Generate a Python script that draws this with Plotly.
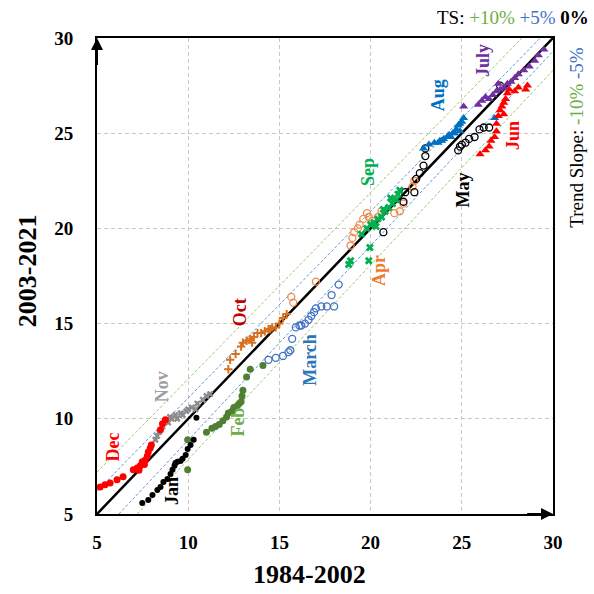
import plotly.graph_objects as go

# ---------------- data (x: 1984-2002, y: 2003-2021) ----------------
dec_x = [5.17, 5.44, 5.72, 6.1, 6.43, 6.99, 7.2, 7.37, 7.48, 7.65, 7.76, 7.81, 7.92, 7.98, 7.3, 7.6, 8.48, 8.59, 8.75]
dec_y = [6.42, 6.53, 6.63, 6.8, 6.95, 7.32, 7.42, 7.53, 7.74, 7.84, 8.05, 8.26, 8.47, 8.63, 7.3, 7.6, 9.42, 9.74, 9.95]

nov_x = [8.2, 8.4, 8.6, 8.9, 9.1, 9.3, 9.6, 9.9, 10.2, 10.5, 10.8, 11.0, 9.0, 9.4, 10.0, 8.3, 11.2, 10.4, 9.7]
nov_y = [8.9, 9.3, 9.6, 9.8, 10.0, 10.2, 10.3, 10.4, 10.6, 10.8, 11.0, 11.2, 10.1, 10.0, 10.5, 9.1, 11.3, 10.5, 10.2]

jan_x = [7.48, 7.81, 8.04, 8.31, 8.48, 8.64, 8.86, 9.03, 9.14, 9.25, 9.3, 9.41, 9.58, 9.69, 9.86, 9.97, 10.13, 10.3, 10.45]
jan_y = [5.58, 5.74, 6.0, 6.26, 6.42, 6.68, 6.84, 7.1, 7.32, 7.53, 7.68, 7.74, 7.79, 7.9, 8.1, 8.42, 8.63, 8.9, 10.05]

feb_x = [9.97, 9.97, 11.0, 11.3, 11.5, 11.7, 11.9, 12.1, 12.2, 12.4, 12.5, 12.7, 12.8, 12.9, 12.95, 13.0, 13.2, 13.4, 14.1]
feb_y = [7.32, 8.9, 9.3, 9.5, 9.6, 9.7, 9.9, 10.1, 10.3, 10.4, 10.6, 10.7, 10.8, 10.9, 11.2, 11.5, 12.2, 12.6, 12.8]

mar_x = [14.4, 14.8, 15.2, 15.5, 15.7, 15.9, 16.2, 16.4, 16.6, 16.75, 16.9, 17.0, 17.3, 17.6, 18.0, 17.86, 18.25, 15.6, 16.1]
mar_y = [13.1, 13.2, 13.3, 13.5, 14.2, 14.8, 14.9, 15.0, 15.2, 15.4, 15.6, 15.8, 15.9, 15.9, 15.9, 16.5, 17.05, 13.6, 14.9]

apr_x = [15.65, 15.76, 17.0, 18.9, 19.0, 19.1, 19.3, 19.4, 19.6, 19.8, 19.9, 20.1, 20.4, 20.6, 21.3, 21.6, 21.8, 22.3, 22.4]
apr_y = [16.4, 16.1, 17.2, 19.1, 19.5, 19.8, 20.0, 20.2, 20.5, 20.8, 20.6, 20.4, 20.6, 20.9, 20.8, 20.9, 21.3, 22.2, 22.5]

may_x = [20.7, 21.8, 21.9, 22.4, 22.5, 22.7, 22.9, 23.0, 23.0, 24.9, 25.0, 25.2, 25.4, 25.7, 25.97, 26.2, 26.5, 27.1, 24.8]
may_y = [19.8, 21.4, 21.9, 21.9, 22.6, 22.9, 23.3, 23.8, 24.2, 24.3, 24.4, 24.5, 24.7, 24.8, 25.2, 25.3, 25.3, 27.5, 24.1]

jun_x = [26.0, 26.3, 26.5, 26.6, 26.8, 26.9, 27.0, 27.1, 27.2, 27.3, 27.4, 27.5, 27.6, 28.1, 28.5, 28.6, 26.9, 27.3, 27.9]
jun_y = [23.9, 24.1, 24.3, 24.6, 24.8, 25.1, 25.9, 26.2, 26.4, 26.6, 26.8, 27.1, 27.3, 27.4, 27.3, 27.5, 25.5, 26.0, 27.2]

jul_x = [25.1, 25.9, 26.1, 26.3, 26.5, 26.7, 26.9, 27.1, 27.3, 27.5, 27.7, 27.9, 28.1, 28.4, 28.7, 29.0, 29.2, 29.5, 27.0]
jul_y = [26.4, 26.5, 26.7, 26.9, 26.8, 27.0, 27.2, 27.3, 27.4, 27.6, 27.7, 27.9, 28.1, 28.3, 28.5, 28.8, 29.1, 29.4, 27.6]

aug_x = [22.9, 23.2, 23.5, 23.7, 23.9, 24.0, 24.2, 24.3, 24.5, 24.6, 24.7, 24.8, 24.9, 25.0, 25.1, 24.4, 23.8, 26.8, 24.9]
aug_y = [24.2, 24.4, 24.5, 24.5, 24.6, 24.7, 24.8, 24.9, 25.0, 25.0, 25.2, 25.4, 25.5, 25.6, 25.8, 24.8, 24.6, 25.8, 25.1]

sep_x = [18.8, 18.9, 19.9, 19.96, 19.5, 19.8, 20.0, 20.2, 20.4, 20.6, 20.8, 21.0, 21.2, 21.4, 21.5, 21.6, 20.3, 20.7, 21.1]
sep_y = [18.1, 18.3, 18.3, 19.0, 19.7, 20.0, 20.2, 20.3, 20.5, 20.6, 20.9, 21.1, 21.3, 21.5, 21.8, 22.0, 20.1, 21.0, 21.6]

oct_x = [12.2, 12.3, 12.6, 12.9, 13.0, 13.2, 13.4, 13.6, 13.8, 14.0, 14.2, 14.4, 14.6, 14.8, 15.0, 15.2, 15.4, 13.5, 14.5]
oct_y = [12.6, 13.1, 13.4, 13.8, 14.0, 14.1, 14.2, 14.3, 14.5, 14.5, 14.6, 14.7, 14.8, 14.8, 15.0, 15.3, 15.5, 14.0, 14.7]

# reference lines (two end points each)
one_to_one_x = [5, 30]
one_to_one_y = [5, 30]
up10_x = [5, 28.3]
up10_y = [7.2, 30]
up5_x = [5, 29.3]
up5_y = [6.2, 30]
dn5_x = [6.2, 30]
dn5_y = [5, 29.3]
dn10_x = [7.2, 30]
dn10_y = [5, 28.3]

tick_vals = [5, 10, 15, 20, 25, 30]
tick_text = ["5", "10", "15", "20", "25", "30"]

SERIF = "Liberation Serif"

fig = go.Figure()

# dashed trend lines
for lx, ly, col in [(up10_x, up10_y, "#9BCB6B"), (dn10_x, dn10_y, "#9BCB6B"),
                    (up5_x, up5_y, "#5B9BD5"), (dn5_x, dn5_y, "#5B9BD5")]:
    fig.add_trace(go.Scatter(x=lx, y=ly, mode="lines",
                             line=dict(color=col, width=1, dash="3px,2px"),
                             hoverinfo="skip", showlegend=False))

fig.add_trace(go.Scatter(x=one_to_one_x, y=one_to_one_y, mode="lines",
                         line=dict(color="black", width=2.5),
                         hoverinfo="skip", showlegend=False))

series = [
    ("Mar", mar_x, mar_y, dict(symbol="circle-open", size=7, color="#4472C4", line=dict(width=1.3))),
    ("Apr", apr_x, apr_y, dict(symbol="circle-open", size=7, color="#F08C4A", line=dict(width=1.3))),
    ("May", may_x, may_y, dict(symbol="circle-open", size=7, color="black", line=dict(width=1.3))),
    ("Feb", feb_x, feb_y, dict(symbol="circle", size=7, color="#4F7F32")),
    ("Jan", jan_x, jan_y, dict(symbol="circle", size=6, color="black")),
    ("Nov", nov_x, nov_y, dict(symbol="x", size=6, color="#8C8C8C")),
    ("Dec", dec_x, dec_y, dict(symbol="circle", size=7, color="#FF0000")),
    ("Oct", oct_x, oct_y, dict(symbol="cross-thin", size=6, color="#D8701E", line=dict(width=2, color="#D8701E"))),
    ("Sep", sep_x, sep_y, dict(symbol="x", size=7, color="#00B050")),
    ("Aug", aug_x, aug_y, dict(symbol="triangle-up", size=8, color="#0070C0")),
    ("Jun", jun_x, jun_y, dict(symbol="triangle-up", size=8, color="#FF0000")),
    ("Jul", jul_x, jul_y, dict(symbol="triangle-up", size=8, color="#7030A0")),
]
for name, sx, sy, mk in series:
    fig.add_trace(go.Scatter(x=sx, y=sy, mode="markers", name=name, marker=mk, showlegend=False))

# month labels
labels = [
    ("Dec", 5.88, 8.5, "#FF0000"),
    ("Nov", 8.56, 11.7, "#A0A0A0"),
    ("Jan", 9.11, 6.2, "black"),
    ("Feb", 12.73, 9.8, "#70AD47"),
    ("Oct", 12.84, 15.6, "#C00000"),
    ("March", 16.68, 13.1, "#2E75B6"),
    ("Apr", 20.5, 17.8, "#ED7D31"),
    ("Sep", 19.86, 22.96, "#00B050"),
    ("May", 25.07, 22.0, "black"),
    ("Aug", 23.7, 27.0, "#0070C0"),
    ("July", 26.16, 28.84, "#7030A0"),
    ("Jun", 27.8, 24.9, "#FF0000"),
]
for txt, lx, ly, col in labels:
    fig.add_annotation(x=lx, y=ly, xref="x", yref="y", text="<b>%s</b>" % txt,
                       textangle=-90, showarrow=False, xanchor="center", yanchor="middle",
                       font=dict(family=SERIF, size=18, color=col))

# axis arrows
fig.add_annotation(x=5, y=30, ax=5, ay=28.5, xref="x", yref="y", axref="x", ayref="y",
                   text="", showarrow=True, arrowhead=2, arrowsize=1.2, arrowwidth=2, arrowcolor="black")
fig.add_annotation(x=30, y=5, ax=28.5, ay=5, xref="x", yref="y", axref="x", ayref="y",
                   text="", showarrow=True, arrowhead=2, arrowsize=1.2, arrowwidth=2, arrowcolor="black")

# axis titles
fig.add_annotation(x=0.465, y=-0.128, xref="paper", yref="paper", text="<b>1984-2002</b>",
                   xanchor="center", yanchor="middle",
                   showarrow=False, font=dict(family=SERIF, size=26, color="black"))
fig.add_annotation(x=-0.1535, y=0.51, xref="paper", yref="paper", text="<b>2003-2021</b>",
                   xanchor="center", yanchor="middle",
                   textangle=-90, showarrow=False, font=dict(family=SERIF, size=26, color="black"))

# TS header
fig.add_annotation(x=1.084, y=1.044, xref="paper", yref="paper", xanchor="right", yanchor="middle",
                   text="TS: <span style='color:#70AD47'>+10%</span> "
                        "<span style='color:#4472C4'>+5%</span> <b>0%</b>",
                   showarrow=False, font=dict(family=SERIF, size=19, color="black"))
# right rotated text
fig.add_annotation(x=1.052, y=0.79, xref="paper", yref="paper", xanchor="center", yanchor="middle",
                   text="Trend Slope: <span style='color:#70AD47'>-10%</span> "
                        "<span style='color:#4472C4'>-5%</span>",
                   textangle=-90, showarrow=False, font=dict(family=SERIF, size=19, color="black"))

axis_common = dict(range=[5, 30], tickvals=tick_vals, ticktext=tick_text,
                   showgrid=True, gridcolor="#C8C8C8", griddash="4px,3px", gridwidth=1,
                   showline=True, linecolor="black", linewidth=2, mirror=True,
                   zeroline=False, ticks="",
                   tickfont=dict(family=SERIF, size=19, color="black", weight="bold"))
fig.update_xaxes(**axis_common, ticklabelstandoff=10)
fig.update_yaxes(**axis_common, ticklabelstandoff=18)

fig.update_layout(width=594, height=594, margin=dict(l=97, r=41, t=38, b=80),
                  plot_bgcolor="white", paper_bgcolor="white", showlegend=False)

fig.write_html("out.html")
